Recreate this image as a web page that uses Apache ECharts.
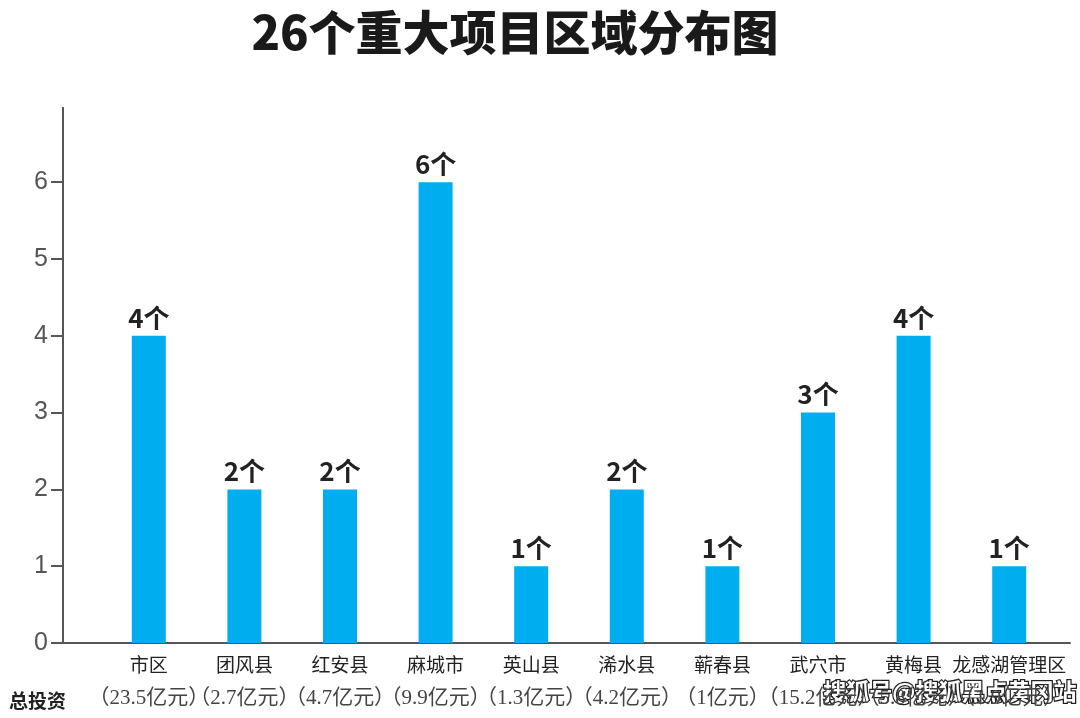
<!DOCTYPE html>
<html>
<head>
<meta charset="utf-8">
<script src="https://cdn.jsdelivr.net/npm/echarts@6/dist/echarts.min.js"></script>
<style>html,body{margin:0;padding:0;background:#fff}#c{width:1080px;height:718px}</style>
</head>
<body>
<div id="c"></div>
<script>
var categories = ['市区','团风县','红安县','麻城市','英山县','浠水县','蕲春县','武穴市','黄梅县','龙感湖管理区'];
var investments = ['23.5','2.7','4.7','9.9','1.3','4.2','1','15.2','5.8','1.9'];
var projectCounts = [4,2,2,6,1,2,1,3,4,1];
var yTicks = [0,1,2,3,4,5,6];

var chart = echarts.init(document.getElementById('c'));
var AXIS_BOTTOM = 75;
var UNIT = 76.8;
var H = 718 - AXIS_BOTTOM;
chart.setOption({
  animation: false,
  backgroundColor: '#ffffff',
  title: [{
    text: '26个重大项目区域分布图',
    left: 510, top: 4, textAlign: 'center',
    textStyle: {fontFamily: 'Noto Sans CJK SC', fontWeight: 900, fontSize: 47, color: '#1a1a1a'}
  }, {
    text: '总投资',
    left: 4, top: 686,
    textStyle: {fontFamily: 'Noto Sans CJK SC', fontWeight: 'bold', fontSize: 19, color: '#222'}
  }],
  graphic: [{
    type: 'text', left: 822, top: 679,
    style: {text: '搜狐号@搜狐黑点黄冈站', font: 'bold 23px "Noto Sans CJK SC"', fill: '#ffffff', stroke: '#222', lineWidth: 2.5}
  }],
  grid: [
    {left: 63, right: 10, top: H - 6.97 * UNIT, bottom: AXIS_BOTTOM},
    {left: 101, right: 23, top: H - 6.97 * UNIT, bottom: AXIS_BOTTOM},
    {left: 63, right: 10, top: H - 6 * UNIT, bottom: AXIS_BOTTOM}
  ],
  xAxis: [{
    gridIndex: 0, type: 'value', min: 0, max: 1,
    axisLine: {show: true, onZero: false, lineStyle: {color: '#555', width: 2}},
    axisTick: {show: false}, axisLabel: {show: false}, splitLine: {show: false}
  }, {
    gridIndex: 1, type: 'category', data: categories,
    axisLine: {show: false}, axisTick: {show: false},
    axisLabel: {
      interval: 0, margin: 8,
      formatter: function (v, i) {
        return '{a|' + v + '}\n{b|（' + investments[i] + '亿元）}';
      },
      rich: {
        a: {fontFamily: 'Noto Sans CJK SC', fontSize: 19, lineHeight: 28, color: '#222'},
        b: {fontFamily: '"Liberation Serif", "Noto Sans CJK SC"', fontSize: 21, lineHeight: 38, color: '#444'}
      }
    }
  }, {
    gridIndex: 2, type: 'value', min: 0, max: 1, show: false
  }],
  yAxis: [{
    gridIndex: 0, type: 'value', min: 0, max: 6.97, interval: 1,
    axisLine: {show: true, lineStyle: {color: '#555', width: 2}},
    axisTick: {show: false}, axisLabel: {show: false}, splitLine: {show: false}
  }, {
    gridIndex: 1, type: 'value', min: 0, max: 6.97, interval: 1,
    show: false
  }, {
    gridIndex: 2, type: 'value', min: yTicks[0], max: yTicks[yTicks.length - 1], interval: 1,
    axisLine: {show: false},
    axisTick: {show: true, length: 12, inside: false, lineStyle: {color: '#555', width: 2}},
    axisLabel: {margin: 15, color: '#555', fontSize: 25, fontFamily: '"Liberation Sans", sans-serif'},
    splitLine: {show: false}
  }],
  series: [{
    type: 'bar', xAxisIndex: 1, yAxisIndex: 1,
    data: projectCounts, barWidth: 34,
    itemStyle: {color: '#00aeef'},
    label: {
      show: true, position: 'top', distance: 5,
      formatter: '{c}个',
      fontFamily: '"Noto Sans CJK SC"', fontWeight: 'bold', fontSize: 26, color: '#222'
    }
  }]
});
</script>
</body>
</html>
